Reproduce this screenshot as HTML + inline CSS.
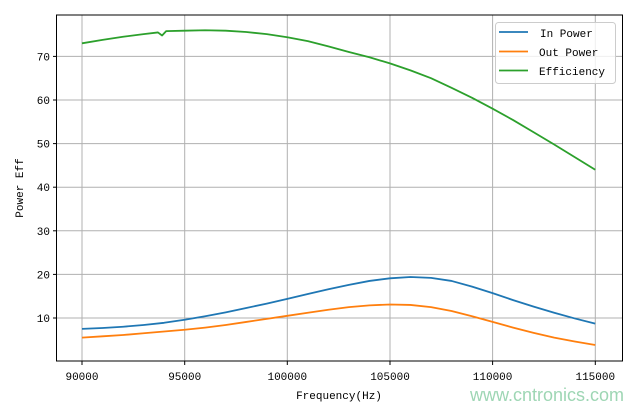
<!DOCTYPE html>
<html><head><style>body{margin:0;background:#fff}</style></head><body>
<svg width="640" height="409" xmlns="http://www.w3.org/2000/svg" font-family="'Liberation Mono','Noto Sans CJK SC',monospace" font-size="11">
<rect width="640" height="409" fill="#fff"/>
<g stroke="#b0b0b0" stroke-width="1">
<line x1="82" y1="15" x2="82" y2="361"/><line x1="184.7" y1="15" x2="184.7" y2="361"/><line x1="287.3" y1="15" x2="287.3" y2="361"/><line x1="390" y1="15" x2="390" y2="361"/><line x1="492.6" y1="15" x2="492.6" y2="361"/><line x1="595.3" y1="15" x2="595.3" y2="361"/>
<line x1="57" y1="318" x2="622" y2="318"/><line x1="57" y1="274.4" x2="622" y2="274.4"/><line x1="57" y1="230.8" x2="622" y2="230.8"/><line x1="57" y1="187.2" x2="622" y2="187.2"/><line x1="57" y1="143.6" x2="622" y2="143.6"/><line x1="57" y1="100" x2="622" y2="100"/><line x1="57" y1="56.4" x2="622" y2="56.4"/>
</g>
<g transform="translate(82,361.6) scale(20.53,-4.36)" fill="none" stroke-width="1.8" stroke-linejoin="round">
<polyline vector-effect="non-scaling-stroke" stroke="#1f77b4" points="0,7.5 1,7.7 2,8 3,8.4 4,8.9 5,9.6 6,10.4 7,11.3 8,12.3 9,13.3 10,14.4 11,15.5 12,16.6 13,17.6 14,18.5 15,19.1 16,19.4 17,19.2 18,18.5 19,17.2 20,15.7 21,14.1 22,12.6 23,11.2 24,9.9 25,8.7"/>
<polyline vector-effect="non-scaling-stroke" stroke="#ff7f0e" points="0,5.5 1,5.8 2,6.1 3,6.5 4,6.9 5,7.3 6,7.8 7,8.4 8,9.1 9,9.8 10,10.5 11,11.2 12,11.9 13,12.5 14,12.9 15,13.1 16,13 17,12.5 18,11.6 19,10.4 20,9.1 21,7.8 22,6.6 23,5.5 24,4.6 25,3.8"/>
<polyline vector-effect="non-scaling-stroke" stroke="#2ca02c" points="0,73 1,73.8 2,74.5 3,75.1 3.7,75.5 3.9,74.8 4.1,75.8 5,75.9 6,76 7,75.9 8,75.6 9,75.1 10,74.4 11,73.5 12,72.3 13,71 14,69.8 15,68.4 16,66.8 17,65 18,62.8 19,60.5 20,58 21,55.4 22,52.6 23,49.8 24,46.9 25,44"/>
</g>
<rect x="56.5" y="15" width="566" height="346" fill="none" stroke="#000" stroke-width="1"/>
<g stroke="#000"><line x1="82" y1="361" x2="82" y2="365"/><line x1="184.7" y1="361" x2="184.7" y2="365"/><line x1="287.3" y1="361" x2="287.3" y2="365"/><line x1="390" y1="361" x2="390" y2="365"/><line x1="492.6" y1="361" x2="492.6" y2="365"/><line x1="595.3" y1="361" x2="595.3" y2="365"/>
<line x1="53" y1="318" x2="57" y2="318"/><line x1="53" y1="274.4" x2="57" y2="274.4"/><line x1="53" y1="230.8" x2="57" y2="230.8"/><line x1="53" y1="187.2" x2="57" y2="187.2"/><line x1="53" y1="143.6" x2="57" y2="143.6"/><line x1="53" y1="100" x2="57" y2="100"/><line x1="53" y1="56.4" x2="57" y2="56.4"/></g>
<g text-anchor="middle" fill="#000"><text x="82" y="380">90000</text><text x="184.7" y="380">95000</text><text x="287.3" y="380">100000</text><text x="390" y="380">105000</text><text x="492.6" y="380">110000</text><text x="595.3" y="380">115000</text>
<text x="339" y="399">Frequency(Hz)</text></g>
<g text-anchor="end" fill="#000"><text x="50" y="322">10</text><text x="50" y="278.4">20</text><text x="50" y="234.8">30</text><text x="50" y="191.2">40</text><text x="50" y="147.6">50</text><text x="50" y="104">60</text><text x="50" y="60.4">70</text></g>
<text transform="translate(23,188) rotate(-90)" text-anchor="middle">Power Eff</text>
<rect x="495.5" y="22.5" width="120" height="61" rx="3" fill="#fff" fill-opacity="0.8" stroke="#ccc"/>
<g stroke-width="1.8"><line x1="499" y1="32" x2="528" y2="32" stroke="#1f77b4"/><line x1="499" y1="51.5" x2="528" y2="51.5" stroke="#ff7f0e"/><line x1="499" y1="70.5" x2="528" y2="70.5" stroke="#2ca02c"/></g>
<g fill="#000"><text x="540" y="37">In Power</text><text x="539" y="56">Out Power</text><text x="539" y="75">Efficiency</text></g>
<text x="470" y="401" fill="#9ed6b4" font-size="18" font-family="'Liberation Sans',sans-serif">www.cntronics.com</text>
</svg>
</body></html>
